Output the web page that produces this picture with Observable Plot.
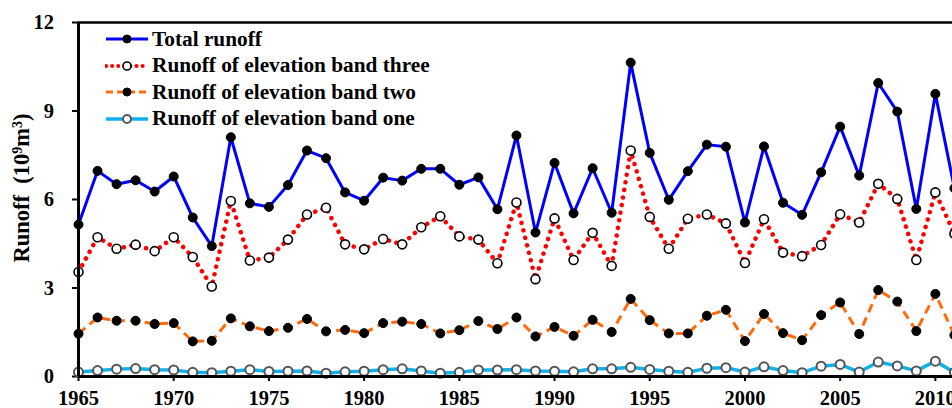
<!DOCTYPE html>
<html><head><meta charset="utf-8">
<script src="https://cdn.jsdelivr.net/npm/d3@7"></script>
<script src="https://cdn.jsdelivr.net/npm/@observablehq/plot@0.6"></script>
<style>
html,body{margin:0;padding:0;background:#fff;}
#wrap{position:relative;width:952px;height:408px;overflow:hidden;}
#legend{position:absolute;left:105px;top:26px;font-family:"Liberation Serif","Times New Roman",serif;font-weight:bold;font-size:21.3px;color:#000;line-height:1;}
.row{display:flex;align-items:center;height:26.6px;white-space:nowrap;}
.row svg{margin-right:3px;flex:none;}
svg.plot text{font-family:"Liberation Serif","Times New Roman",serif;font-weight:bold;}
</style></head><body><div id="wrap"><div id="legend"></div></div>
<script>
const years = [1965,1966,1967,1968,1969,1970,1971,1972,1973,1974,1975,1976,1977,1978,1979,1980,1981,1982,1983,1984,1985,1986,1987,1988,1989,1990,1991,1992,1993,1994,1995,1996,1997,1998,1999,2000,2001,2002,2003,2004,2005,2006,2007,2008,2009,2010,2011];
const totalRunoff = [5.15,6.97,6.52,6.65,6.27,6.78,5.39,4.42,8.11,5.87,5.75,6.49,7.66,7.40,6.24,5.96,6.74,6.64,7.04,7.04,6.50,6.75,5.67,8.17,4.88,7.24,5.53,7.06,5.55,10.64,7.58,5.99,6.96,7.86,7.79,5.22,7.80,5.89,5.48,6.92,8.47,6.81,9.95,8.98,5.68,9.58,6.38];
const bandThree = [3.54,4.72,4.33,4.47,4.25,4.72,4.05,3.05,5.95,3.93,4.03,4.64,5.49,5.72,4.48,4.31,4.66,4.48,5.06,5.43,4.75,4.64,3.84,5.90,3.30,5.36,3.95,4.87,3.75,7.66,5.41,4.33,5.35,5.49,5.19,3.85,5.33,4.20,4.08,4.46,5.50,5.22,6.53,6.02,3.95,6.24,4.84];
const bandTwo = [1.45,2.00,1.89,1.89,1.78,1.81,1.19,1.21,1.97,1.70,1.54,1.65,1.95,1.53,1.58,1.47,1.81,1.86,1.78,1.46,1.57,1.88,1.61,2.00,1.36,1.68,1.38,1.92,1.51,2.63,1.91,1.46,1.46,2.06,2.26,1.20,2.12,1.47,1.23,2.08,2.51,1.44,2.93,2.54,1.54,2.80,1.40];
const bandOne = [0.15,0.20,0.25,0.27,0.23,0.22,0.14,0.13,0.18,0.23,0.17,0.18,0.19,0.11,0.16,0.18,0.23,0.26,0.19,0.11,0.14,0.22,0.22,0.23,0.19,0.18,0.16,0.26,0.26,0.31,0.24,0.18,0.14,0.28,0.30,0.15,0.33,0.20,0.13,0.35,0.41,0.15,0.49,0.36,0.19,0.52,0.14];
const seriesNames = ["Total runoff","Runoff of elevation band three","Runoff of elevation band two","Runoff of elevation band one"];
const xTicks = [1965,1970,1975,1980,1985,1990,1995,2000,2005,2010];
const yTicks = [0,3,6,9,12];
const yLabel = "Runoff (10⁹m³)";
// pieces of the y label: [text, isSuperscript]
const yLabelParts = [["Runoff  (10", false], ["9", true], ["m", false], ["3", true], [")", false]];

const styles = [
  {values: totalRunoff, stroke:"#0000ff", strokeWidth:3, dash:null, cap:"butt", dotFill:"#000", dotStroke:"#000", dotSW:1},
  {values: bandThree, stroke:"#ff0000", strokeWidth:4.5, dash:"0.1 7.6", cap:"round", dotFill:"#fff", dotStroke:"#000", dotSW:1.6},
  {values: bandTwo, stroke:"#ff6a0d", strokeWidth:3, dash:"9 5.5", cap:"butt", dotFill:"#000", dotStroke:"#000", dotSW:1},
  {values: bandOne, stroke:"#10b0ec", strokeWidth:3.5, dash:null, cap:"butt", dotFill:"#fff", dotStroke:"#555", dotSW:2}
];

const marks = [];
styles.forEach((s, i) => {
  const data = years.map((yr, j) => ({year: yr, value: s.values[j], series: seriesNames[i]}));
  marks.push(Plot.lineY(data, {x:"year", y:"value", stroke:s.stroke, strokeWidth:s.strokeWidth, strokeDasharray:s.dash, strokeLinecap:s.cap, strokeLinejoin:"round"}));
  marks.push(Plot.dot(data, {x:"year", y:"value", r:4.5, fill:s.dotFill, stroke:s.dotStroke, strokeWidth:s.dotSW}));
});

const chart = Plot.plot({
  width: 952,
  height: 408,
  marginLeft: 78,
  marginRight: 0,
  marginTop: 22,
  marginBottom: 32,
  style: {fontFamily:"'Liberation Serif', 'Times New Roman', serif", fontSize:"20px", fontWeight:"bold", color:"#000", background:"#fff", overflow:"hidden"},
  x: {domain:[1965, 2010.9]},
  y: {domain:[0, 12]},
  marks: [
    Plot.axisY({ticks: yTicks, tickSize:6, tickPadding:18.5, fontSize:20.5, fontWeight:"bold", strokeWidth:2, label:null}),
    Plot.axisX({ticks: xTicks, tickFormat: d => String(d), tickSize:5, tickPadding:9, fontSize:20.5, fontWeight:"bold", strokeWidth:2, label:null}),
    Plot.text([yLabel], {frameAnchor:"left", textAnchor:"middle", rotate:-90, dx:-57, dy:-11.5, fontSize:22.5, fontWeight:"bold", fill:"#000"}),
    ...marks,
    Plot.ruleY([12], {stroke:"#000", strokeWidth:2.5}),
    Plot.ruleX([1965], {stroke:"#000", strokeWidth:3}),
    Plot.ruleY([0], {stroke:"#000", strokeWidth:3})
  ]
});

// rebuild the y label with true superscripts
d3.select(chart).selectAll("text").filter(function() { return this.textContent === yLabel; }).each(function() {
  const t = d3.select(this);
  t.text(null).attr("xml:space", "preserve").style("white-space", "pre");
  yLabelParts.forEach(([str, sup]) => {
    const ts = t.append("tspan").text(str);
    if (sup) ts.attr("font-size", "0.62em").attr("baseline-shift", "super");
  });
});

const wrap = document.getElementById("wrap");
wrap.insertBefore(chart, wrap.firstChild);

const legend = document.getElementById("legend");
styles.forEach((s, i) => {
  const row = document.createElement("div");
  row.className = "row";
  const ns = "http://www.w3.org/2000/svg";
  const sw = document.createElementNS(ns, "svg");
  sw.setAttribute("width", 44); sw.setAttribute("height", 14);
  const ln = document.createElementNS(ns, "line");
  ln.setAttribute("x1", 1); ln.setAttribute("x2", 43); ln.setAttribute("y1", 7); ln.setAttribute("y2", 7);
  ln.setAttribute("stroke", s.stroke); ln.setAttribute("stroke-width", s.strokeWidth === 4.5 ? 4 : s.strokeWidth);
  if (s.dash) ln.setAttribute("stroke-dasharray", s.dash === "0.1 7.6" ? "0.1 6" : "7 4");
  ln.setAttribute("stroke-linecap", s.cap);
  sw.appendChild(ln);
  const c = document.createElementNS(ns, "circle");
  c.setAttribute("cx", 22); c.setAttribute("cy", 7); c.setAttribute("r", 4);
  c.setAttribute("fill", s.dotFill); c.setAttribute("stroke", s.dotStroke); c.setAttribute("stroke-width", s.dotSW);
  sw.appendChild(c);
  row.appendChild(sw);
  const t = document.createElement("span");
  t.textContent = seriesNames[i];
  row.appendChild(t);
  legend.appendChild(row);
});
</script></body></html>
